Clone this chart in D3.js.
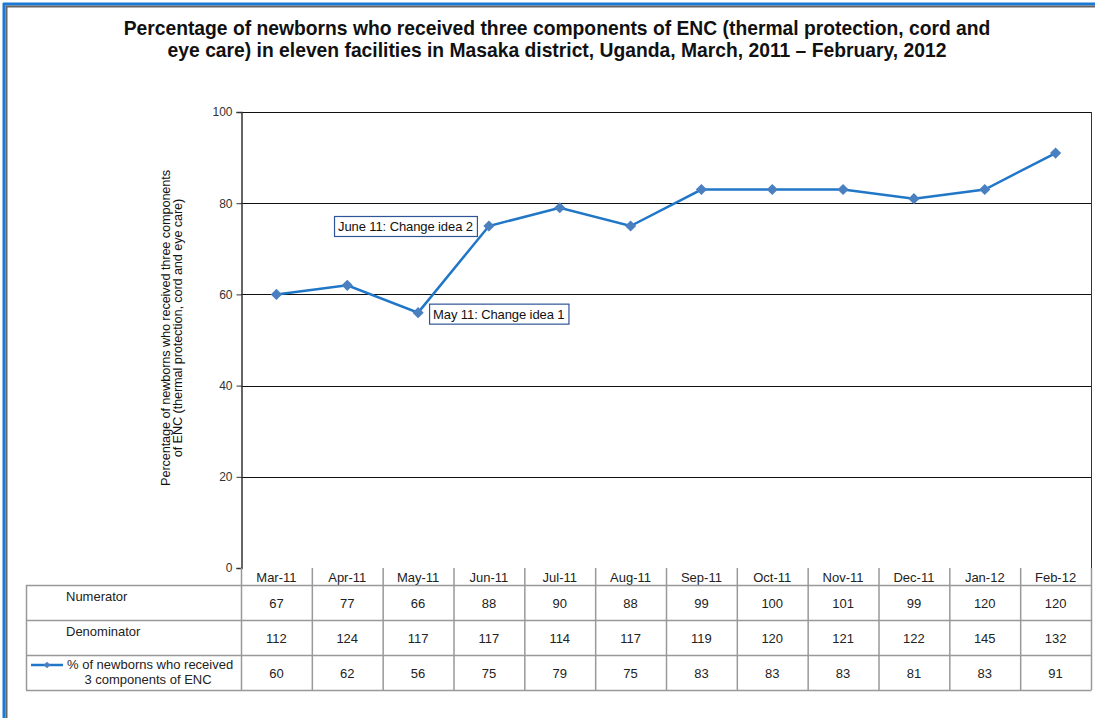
<!DOCTYPE html>
<html>
<head>
<meta charset="utf-8">
<script src="https://cdn.jsdelivr.net/npm/d3@7"></script>
<style>
  html, body { margin: 0; padding: 0; background: #fff; }
  svg { display: block; font-family: "Liberation Sans", Arial, sans-serif; }
</style>
</head>
<body>
<svg id="chart" width="1095" height="718"></svg>
<script>
// Monthly ENC data, eleven facilities, Masaka district
const months = ["Mar-11", "Apr-11", "May-11", "Jun-11", "Jul-11", "Aug-11",
                "Sep-11", "Oct-11", "Nov-11", "Dec-11", "Jan-12", "Feb-12"];
const numerator   = [67, 77, 66, 88, 90, 88, 99, 100, 101, 99, 120, 120];
const denominator = [112, 124, 117, 117, 114, 117, 119, 120, 121, 122, 145, 132];
const percentENC  = [60, 62, 56, 75, 79, 75, 83, 83, 83, 81, 83, 91];
const yTicks = [0, 20, 40, 60, 80, 100];

const titleLines = [
  "Percentage of newborns who received three components of ENC (thermal protection, cord and",
  "eye care) in eleven facilities in Masaka district, Uganda, March, 2011 \u2013 February, 2012"
];
const yLabelLines = [
  "Percentage of newborns who received three components",
  "of ENC (thermal protection, cord and eye care)"
];
const seriesLabel = ["% of newborns who received", "3 components of ENC"];
const notes = [
  { month: "Jun-11", text: "June 11: Change idea 2", side: "left" },
  { month: "May-11", text: "May 11: Change idea 1", side: "right" }
];

const svg = d3.select("#chart");
const plot = { left: 241, right: 1091, top: 112, bottom: 568 };
const rowH = 35, headH = 17, tableLeft = 26;
const blue = "#2177c7", markFill = "#4a7fc0";

// window-style frame
svg.append("line").attr("x1", 3).attr("x2", 1095).attr("y1", 4).attr("y2", 4)
  .attr("stroke", "#1a7ad6").attr("stroke-width", 3);
svg.append("line").attr("x1", 6).attr("x2", 1095).attr("y1", 6.5).attr("y2", 6.5)
  .attr("stroke", "#666").attr("stroke-width", 2);
svg.append("line").attr("x1", 4).attr("x2", 4).attr("y1", 3).attr("y2", 718)
  .attr("stroke", "#1a7ad6").attr("stroke-width", 3);
svg.append("line").attr("x1", 6.5).attr("x2", 6.5).attr("y1", 6).attr("y2", 718)
  .attr("stroke", "#666").attr("stroke-width", 2);

// title
svg.append("g").selectAll("text").data(titleLines).join("text")
  .attr("x", 557).attr("y", (d, i) => 35 + i * 22)
  .attr("text-anchor", "middle").attr("font-size", 19.3).attr("font-weight", "bold")
  .attr("fill", "#111").text(d => d);

const x = d3.scaleBand().domain(months).range([plot.left, plot.right]);
const y = d3.scaleLinear().domain([0, 100]).range([plot.bottom, plot.top]);

// gridlines
svg.append("g").selectAll("line").data(yTicks.filter(t => t > 0)).join("line")
  .attr("x1", plot.left).attr("x2", plot.right)
  .attr("y1", d => Math.round(y(d)) + 0.5).attr("y2", d => Math.round(y(d)) + 0.5)
  .attr("stroke", "#111").attr("stroke-width", 1);
// right frame edge
svg.append("line").attr("x1", plot.right + 0.5).attr("x2", plot.right + 0.5)
  .attr("y1", plot.top).attr("y2", plot.bottom).attr("stroke", "#333");

// y axis
const yAxis = svg.append("g").attr("transform", `translate(${plot.left + 0.5},0)`)
  .call(d3.axisLeft(y).tickValues(yTicks).tickSize(5).tickPadding(4));
yAxis.select(".domain").attr("stroke", "#333").attr("stroke-width", 1.5);
yAxis.selectAll(".tick line").attr("stroke", "#333");
yAxis.selectAll(".tick text").attr("font-size", 12).attr("fill", "#333")
  .attr("font-family", "Liberation Sans, Arial, sans-serif");

// y label
svg.append("text").attr("transform", "translate(171,328) rotate(-90)")
  .attr("text-anchor", "middle").attr("font-size", 12.8).attr("letter-spacing", -0.15)
  .attr("fill", "#111")
  .selectAll("tspan").data(yLabelLines).join("tspan")
  .attr("x", 0).attr("dy", (d, i) => i === 0 ? "-0.1em" : "0.95em").text(d => d);

// data table
const tableTop = plot.bottom;
const rows = [
  { label: ["Numerator"], values: numerator },
  { label: ["Denominator"], values: denominator },
  { label: seriesLabel, values: percentENC, legend: true }
];
const tbl = svg.append("g").attr("font-size", 13).attr("fill", "#222");
const grey = "#999";
// header cells
tbl.selectAll("line.hv").data(months.concat(["end"])).join("line")
  .attr("x1", (d, i) => plot.left + i * x.bandwidth() + 0.5)
  .attr("x2", (d, i) => plot.left + i * x.bandwidth() + 0.5)
  .attr("y1", tableTop).attr("y2", tableTop + headH + rowH * 3)
  .attr("stroke", grey).attr("stroke-width", 1.5);
tbl.selectAll("text.head").data(months).join("text")
  .attr("x", d => x(d) + x.bandwidth() / 2).attr("y", tableTop + 13.5)
  .attr("text-anchor", "middle").text(d => d);
// horizontal rules
[0, 1, 2, 3].forEach(i => {
  const yy = tableTop + headH + i * rowH + 0.5;
  tbl.append("line").attr("x1", tableLeft).attr("x2", plot.right + 0.5)
    .attr("y1", yy).attr("y2", yy).attr("stroke", grey).attr("stroke-width", 1.5);
});
tbl.append("line").attr("x1", tableLeft + 0.5).attr("x2", tableLeft + 0.5)
  .attr("y1", tableTop + headH).attr("y2", tableTop + headH + rowH * 3)
  .attr("stroke", grey).attr("stroke-width", 1.5);

rows.forEach((r, ri) => {
  const top = tableTop + headH + ri * rowH;
  tbl.selectAll(`text.v${ri}`).data(r.values).join("text")
    .attr("x", (d, i) => x(months[i]) + x.bandwidth() / 2)
    .attr("y", top + 23).attr("text-anchor", "middle").text(d => d);
  if (r.legend) {
    tbl.append("line").attr("x1", 31).attr("x2", 63).attr("y1", top + 10).attr("y2", top + 10)
      .attr("stroke", blue).attr("stroke-width", 2.5);
    tbl.append("path").attr("d", d3.symbol(d3.symbolDiamond2, 28)())
      .attr("transform", `translate(47,${top + 10})`).attr("fill", markFill);
    tbl.append("text").attr("x", 67).attr("y", top + 14).text(r.label[0]);
    tbl.append("text").attr("x", 148).attr("y", top + 28.5).attr("text-anchor", "middle").text(r.label[1]);
  } else {
    tbl.append("text").attr("x", 66).attr("y", top + 16).text(r.label[0]);
  }
});

// series line + markers
const cx = m => x(m) + x.bandwidth() / 2;
const line = d3.line().x((d, i) => cx(months[i])).y(d => y(d));
svg.append("path").datum(percentENC).attr("d", line)
  .attr("fill", "none").attr("stroke", blue).attr("stroke-width", 2.5);
svg.append("g").selectAll("path").data(percentENC).join("path")
  .attr("d", d3.symbol(d3.symbolDiamond2, 80)())
  .attr("transform", (d, i) => `translate(${cx(months[i])},${y(d)})`)
  .attr("fill", markFill);

// change-idea callouts
notes.forEach(n => {
  const i = months.indexOf(n.month);
  const px = cx(n.month), py = y(percentENC[i]);
  const g = svg.append("g");
  const t = g.append("text").attr("font-size", 13).attr("letter-spacing", -0.1)
    .attr("fill", "#111").text(n.text);
  const w = t.node().getComputedTextLength() + 8, h = 20;
  const bx = n.side === "left" ? px - 12 - w : px + 11;
  const by = n.side === "left" ? py - 10 : py - 9;
  g.insert("rect", "text").attr("x", bx + 0.5).attr("y", by + 0.5).attr("width", w).attr("height", h)
    .attr("fill", "#fff").attr("stroke", "#2f5597").attr("stroke-width", 1.2);
  t.attr("x", bx + 4).attr("y", by + 15);
});
</script>
</body>
</html>
